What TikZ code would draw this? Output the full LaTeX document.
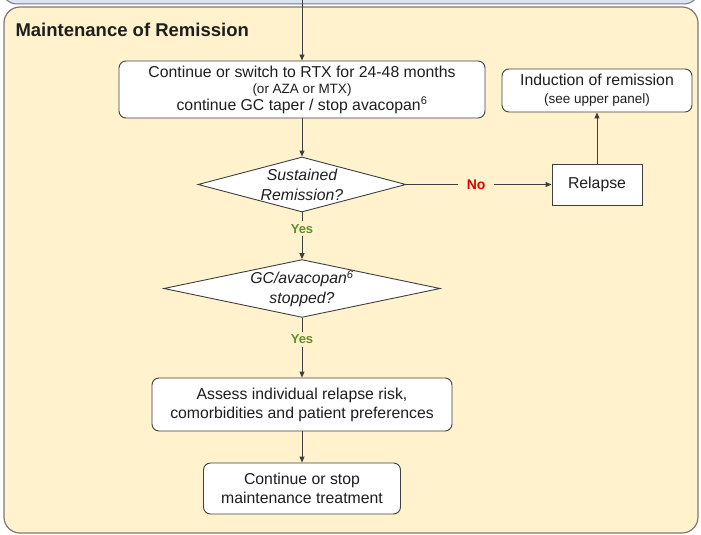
\documentclass[tikz,border=0pt]{standalone}
\usepackage{fontspec}
\setmainfont{Liberation Sans}
\usetikzlibrary{shapes.geometric,arrows.meta}
\definecolor{panelbeige}{HTML}{FFF2CC}
\definecolor{upperblue}{HTML}{DCE4F4}
\definecolor{edgegray}{HTML}{7A7A7A}
\definecolor{linegray}{HTML}{3F3F3F}
\definecolor{inkgray}{HTML}{1E1E1E}
\definecolor{yesgreen}{HTML}{5E8F2C}
\definecolor{nored}{HTML}{E00000}
\newcommand{\smallnote}{\fontsize{13.5}{15}\selectfont}

\begin{document}
\begin{tikzpicture}[
        x=1pt, y=-1pt,
        box/.style={draw=linegray, fill=white, rounded corners=7pt, line width=0.9pt,
          align=center, inner sep=2pt, text=inkgray, font=\fontsize{15.8}{19}\selectfont},
        plainbox/.style={box, rounded corners=0pt},
        decision/.style={diamond, draw=linegray, fill=white, line width=0.9pt, text=inkgray,
          align=center, inner sep=0pt, font=\fontsize{15.8}{20}\selectfont\itshape},
        arr/.style={-{Triangle[length=6pt, width=5pt]}, linegray, line width=0.9pt},
        yeslbl/.style={font=\fontsize{13}{14}\selectfont\bfseries, text=yesgreen,
          fill=panelbeige, inner sep=3pt},
        nolbl/.style={font=\fontsize{14}{16}\selectfont\bfseries, text=nored,
          fill=panelbeige, inner xsep=9pt},
        paneltitle/.style={font=\fontsize{18.5}{22}\selectfont\bfseries, text=inkgray, anchor=west},
      ]
        \clip (0,0) rectangle (701,535);

        % Panels
        \draw[edgegray, fill=upperblue, line width=1pt, rounded corners=15pt] (2,-40) rectangle (699,4);
        \draw[edgegray, fill=panelbeige, line width=1.2pt, rounded corners=16pt] (4,7) rectangle (698,533);
        \node[paneltitle] (title) at (12,30) {Maintenance of Remission};

        % Main column
        \coordinate (feed) at (302,0);
        \node[box, minimum width=366pt, minimum height=57pt, font=\fontsize{15.8}{16.5}\selectfont] (cont) at (302,89.5)
          {Continue or switch to RTX for 24-48 months\\{\smallnote (or AZA or MTX)}\\continue GC taper / stop avacopan\textsuperscript{6}};
        \node[decision, aspect=3.78, minimum width=208pt, minimum height=55pt] (sust) at (302,184.5)
          {Sustained\\Remission?};
        \node[decision, aspect=4.78, minimum width=273pt, minimum height=57pt] (gcstop) at (302,288.5)
          {GC/avacopan\textsuperscript{6}\\stopped?};
        \node[box, minimum width=300pt, minimum height=53pt] (assess) at (302,404.5)
          {Assess individual relapse risk,\\comorbidities and patient preferences};
        \node[box, minimum width=197pt, minimum height=51pt] (keep) at (302,488.5)
          {Continue or stop\\maintenance treatment};

        % Relapse branch
        \node[plainbox, minimum width=90pt, minimum height=41pt] (relapse) at (597,184.5) {Relapse};
        \node[box, minimum width=190pt, minimum height=43pt, font=\fontsize{15.8}{18}\selectfont] (induct) at (597,90.5)
          {Induction of remission\\{\smallnote (see upper panel)}};

        % Connectors
        \draw[arr] (feed) -- (cont);
        \draw[arr] (cont) -- (sust);
        \draw[arr] (sust) -- node[yeslbl, pos=0.35] {Yes} (gcstop);
        \draw[arr] (gcstop) -- node[yeslbl, pos=0.36] {Yes} (assess);
        \draw[arr] (assess) -- (keep);
        \draw[arr] (sust) -- node[nolbl, pos=0.48] {No} (relapse);
        \draw[arr] (relapse) -- (induct);
      \end{tikzpicture}
\end{document}
